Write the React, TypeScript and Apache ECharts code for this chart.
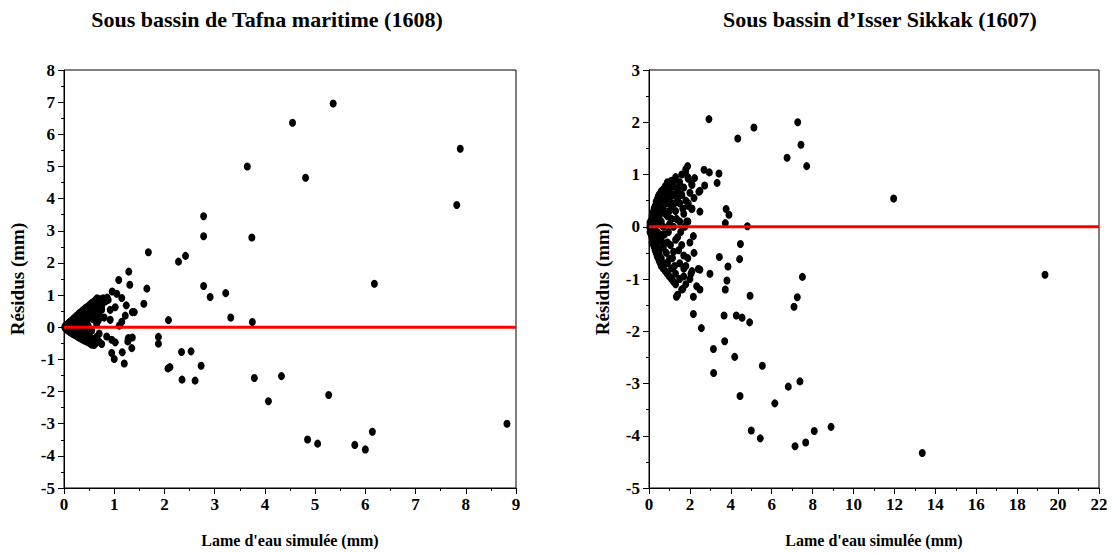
import React, { useEffect, useRef } from "react";
import * as echarts from "echarts";

const titleLeft = "Sous bassin de Tafna maritime (1608)";
const titleRight = "Sous bassin d\u2019Isser Sikkak (1607)";
const xName = "Lame d'eau simulée (mm)";
const yName = "Résidus (mm)";

// Tafna maritime: [simulated depth (mm), residual (mm)]
const tafnaSparse: number[][] = [
  [4.55, 6.36], [5.36, 6.96], [4.81, 4.65], [3.65, 5.0], [7.89, 5.55], [7.82, 3.8], [6.18, 1.35],
  [3.74, 2.79], [3.75, 0.16], [2.78, 3.45], [2.78, 2.83], [2.42, 2.22], [2.28, 2.04], [1.68, 2.33],
  [2.78, 1.28], [2.91, 0.94], [3.22, 1.06], [3.32, 0.3], [2.08, 0.22], [1.88, -0.3], [1.88, -0.51],
  [2.07, -1.28], [2.11, -1.24], [2.34, -0.77], [2.53, -0.75], [2.73, -1.2], [2.35, -1.63], [2.61, -1.66],
  [3.79, -1.58], [4.33, -1.52], [4.07, -2.3], [5.27, -2.11], [4.85, -3.49], [5.05, -3.62], [5.79, -3.66],
  [6.0, -3.8], [6.14, -3.25], [8.82, -3.0],
];
const tafnaMid: number[][] = [
  [1.29, 1.73], [1.09, 1.47], [1.31, 1.32], [1.65, 1.2], [0.96, 1.11], [1.05, 1.04], [1.15, 0.91],
  [1.24, 0.68], [1.59, 0.73], [1.36, 0.47], [1.4, 0.47], [1.22, 0.36], [1.15, 0.17], [0.92, 0.54],
  [0.86, 0.92], [0.82, 0.8], [0.88, 0.85], [0.72, 0.65], [0.75, 0.54], [0.92, 0.23], [0.85, -0.29],
  [0.95, -0.39], [1.02, -0.47], [0.75, -0.52], [1.28, -0.34], [1.36, -0.32], [1.27, -0.44], [1.35, -0.65],
  [0.95, -0.8], [1.0, -0.99], [1.16, -0.78], [1.2, -1.13], [0.55, -0.54], [1.02, 0.62], [0.8, 0.3],
  [1.1, 0.05], [0.68, 0.2],
];
const tafnaCluster: number[][] = [
  [0.02, 0.01], [0.02, -0.02], [0.02, 0.03], [0.04, 0.05], [0.04, -0.04], [0.04, 0.0],
  [0.06, 0.08], [0.06, -0.07], [0.06, 0.02], [0.08, 0.1], [0.08, -0.1], [0.08, 0.04], [0.08, -0.03],
  [0.1, 0.14], [0.1, -0.12], [0.1, 0.06], [0.12, 0.17], [0.12, 0.08], [0.12, -0.15], [0.12, -0.05],
  [0.15, 0.21], [0.15, 0.1], [0.15, -0.18], [0.15, -0.08], [0.18, 0.25], [0.18, 0.14], [0.18, -0.2], [0.18, 0.03],
  [0.2, 0.28], [0.2, 0.18], [0.2, -0.23], [0.2, -0.12], [0.23, 0.33], [0.23, 0.2], [0.23, -0.25], [0.23, -0.1],
  [0.26, 0.36], [0.26, 0.24], [0.26, -0.28], [0.26, 0.1], [0.28, 0.4], [0.28, 0.3], [0.28, -0.3], [0.28, -0.15],
  [0.31, 0.44], [0.31, 0.33], [0.31, -0.33], [0.31, 0.18], [0.34, 0.47], [0.34, 0.38], [0.34, -0.35], [0.34, -0.2],
  [0.37, 0.52], [0.37, 0.42], [0.37, -0.38], [0.37, 0.26], [0.4, 0.55], [0.4, 0.46], [0.4, -0.4], [0.4, 0.3], [0.4, -0.25],
  [0.43, 0.6], [0.43, 0.5], [0.43, -0.43], [0.43, 0.35], [0.46, 0.63], [0.46, 0.55], [0.46, -0.45], [0.46, -0.3],
  [0.5, 0.68], [0.5, 0.58], [0.5, -0.48], [0.5, 0.4], [0.53, 0.72], [0.53, 0.62], [0.53, -0.5], [0.53, 0.45],
  [0.56, 0.76], [0.56, 0.65], [0.56, -0.52], [0.56, -0.35], [0.6, 0.8], [0.6, 0.7], [0.6, -0.55], [0.6, 0.5],
  [0.63, 0.85], [0.63, 0.74], [0.63, -0.5], [0.63, 0.55], [0.66, 0.9], [0.66, 0.78], [0.66, 0.6],
  [0.7, 0.88], [0.7, 0.68], [0.7, -0.45], [0.75, 0.65], [0.72, 0.3], [0.45, 0.15], [0.35, 0.08], [0.5, -0.2],
  [0.3, 0.1], [0.38, -0.1], [0.42, 0.2], [0.48, 0.05], [0.52, 0.3], [0.55, -0.1], [0.58, 0.25], [0.62, 0.38],
  [0.65, -0.3], [0.68, 0.45], [0.45, -0.15], [0.6, -0.4], [0.7, -0.2], [0.25, -0.05], [0.33, -0.27],
  [0.65, 0.1], [0.7, 0.8], [0.75, 0.75], [0.78, 0.9],
];

// Isser Sikkak
const isserSparse: number[][] = [
  [2.93, 2.06], [5.13, 1.9], [7.27, 2.0], [4.34, 1.69], [7.43, 1.57], [6.75, 1.32], [7.71, 1.16],
  [2.69, 1.09], [2.95, 1.04], [3.42, 1.02], [2.72, 0.79], [3.33, 0.84], [2.49, 0.69], [11.96, 0.54],
  [2.49, 0.29], [3.77, 0.34], [3.91, 0.23], [3.73, 0.07], [4.81, 0.01], [4.47, -0.33], [3.44, -0.58],
  [4.43, -0.62], [3.86, -0.76], [2.49, -0.82], [2.98, -0.9], [3.81, -1.03], [3.73, -1.2], [19.36, -0.92],
  [7.5, -0.96], [7.25, -1.35], [7.09, -1.53], [4.94, -1.32], [2.49, -1.2], [3.67, -1.7], [4.27, -1.7],
  [4.55, -1.74], [4.92, -1.83], [2.56, -1.94], [3.7, -2.19], [3.15, -2.34], [4.19, -2.49], [5.54, -2.66],
  [3.16, -2.8], [7.38, -2.96], [6.81, -3.06], [4.45, -3.24], [6.15, -3.38], [5.0, -3.9], [5.44, -4.05],
  [8.08, -3.91], [8.9, -3.83], [7.14, -4.2], [7.66, -4.13], [13.36, -4.33],
];
const isserMid: number[][] = [
  [1.89, 1.16], [1.79, 1.06], [1.22, 0.88], [2.23, 0.93], [2.09, 0.82], [1.92, 0.92], [2.44, 0.67],
  [1.11, 0.77], [1.03, 0.64], [1.43, 0.74], [1.6, 0.61], [1.92, 0.45], [2.09, 0.34], [1.84, 0.1],
  [2.17, -0.18], [2.41, -0.81], [2.05, -0.9], [2.33, -1.14], [2.17, -1.34], [1.34, -1.34], [1.65, -1.19],
  [2.17, -1.67],
];
const isserCluster: number[][] = [
  [0.05, 0.02], [0.05, -0.03], [0.05, 0.08], [0.05, -0.1], [0.1, 0.12], [0.1, -0.15], [0.1, 0.0], [0.1, -0.05],
  [0.15, 0.2], [0.15, -0.22], [0.15, 0.06], [0.15, -0.3], [0.2, 0.28], [0.2, -0.32], [0.2, 0.1], [0.2, -0.12],
  [0.25, 0.35], [0.25, -0.38], [0.25, 0.18], [0.25, -0.2], [0.3, 0.4], [0.3, -0.45], [0.3, 0.25], [0.3, -0.08],
  [0.35, 0.48], [0.35, -0.5], [0.35, 0.3], [0.35, -0.35], [0.4, 0.52], [0.4, -0.56], [0.4, 0.15], [0.4, -0.25],
  [0.45, 0.58], [0.45, -0.6], [0.45, 0.4], [0.45, -0.42], [0.5, 0.62], [0.5, -0.65], [0.5, 0.05], [0.5, -0.5],
  [0.55, 0.45], [0.55, -0.7], [0.55, 0.28], [0.55, -0.15], [0.6, 0.68], [0.6, -0.75], [0.6, 0.55], [0.6, -0.6],
  [0.7, 0.72], [0.7, -0.8], [0.7, 0.35], [0.7, -0.4], [0.8, 0.78], [0.8, -0.85], [0.8, 0.6], [0.8, -0.7],
  [0.9, 0.85], [0.9, -0.9], [0.9, 0.2], [0.9, -0.3], [1.0, 0.7], [1.0, -0.95], [1.0, 0.5], [1.0, -0.62], [1.0, 0.05],
  [1.1, 0.88], [1.1, -1.0], [1.1, 0.4], [1.1, -0.8], [1.2, 0.78], [1.2, -1.05], [1.2, 0.62], [1.2, -0.48],
  [1.3, 0.95], [1.3, -1.1], [1.3, 0.3], [1.3, -0.9], [1.4, 0.7], [1.4, -1.3], [1.4, 0.55], [1.4, -0.2],
  [1.5, 0.85], [1.5, -1.0], [1.5, 0.45], [1.5, -0.7], [1.6, 1.0], [1.6, -1.2], [1.6, 0.61], [1.6, -0.35],
  [1.7, 0.75], [1.7, -0.95], [1.7, 0.25], [1.7, -0.55], [1.8, 1.1], [1.8, -1.1], [1.8, 0.5], [1.8, -0.75],
  [1.9, 0.95], [1.9, -0.6], [1.9, 0.4], [1.9, 0.1], [2.0, 0.65], [2.0, -1.0], [2.0, -0.3],
  [2.1, 0.8], [2.1, -0.85], [2.1, 0.35], [2.2, 0.55], [2.2, -0.5],
  [0.3, 0.05], [0.4, -0.1], [0.5, 0.2], [0.6, -0.2], [0.6, 0.1], [0.7, 0.0], [0.7, 0.5], [0.75, -0.15],
  [0.8, 0.25], [0.85, -0.5], [0.9, 0.45], [0.95, -0.1], [1.0, 0.3], [1.05, -0.35], [1.1, 0.15], [1.15, -0.6],
  [1.2, 0.0], [1.25, 0.45], [1.3, -0.25], [1.35, 0.15], [1.45, -0.45], [1.5, 0.1], [1.55, -0.1], [1.65, 0.35],
  [1.7, -0.8], [1.75, 0.0], [0.65, 0.3], [0.65, -0.3], [0.85, 0.65], [0.9, -0.7], [1.15, 0.6], [1.25, -0.75],
];

const tafnaPoints = [...tafnaCluster, ...tafnaMid, ...tafnaSparse];
const isserPoints = [...isserCluster, ...isserMid, ...isserSparse];
const tafnaZeroLine = [[0, 0], [9, 0]];
const isserZeroLine = [[0, 0], [22, 0]];

const FONT = "'Liberation Serif', 'Times New Roman', serif";

function xAxisCfg(gridIndex: number, max: number, interval: number) {
  return {
    gridIndex,
    type: "value",
    min: 0,
    max,
    interval,
    name: xName,
    nameLocation: "middle",
    nameGap: 44,
    nameTextStyle: { fontFamily: FONT, fontWeight: "bold", fontSize: 16, color: "#000" },
    axisLine: { onZero: false, lineStyle: { color: "#000", width: 1 } },
    axisTick: { show: true, length: 6, lineStyle: { color: "#000" } },
    minorTick: { show: true, splitNumber: 2, length: 3, lineStyle: { color: "#000" } },
    axisLabel: { fontFamily: FONT, fontWeight: "bold", fontSize: 17, color: "#000", margin: 8 },
    splitLine: { show: false },
  };
}

function yAxisCfg(gridIndex: number, min: number, max: number) {
  return {
    gridIndex,
    type: "value",
    min,
    max,
    interval: 1,
    name: yName,
    nameLocation: "middle",
    nameRotate: 90,
    nameGap: 37,
    nameTextStyle: { fontFamily: FONT, fontWeight: "bold", fontSize: 19, color: "#000" },
    axisLine: { onZero: false, lineStyle: { color: "#000", width: 1 } },
    axisTick: { show: true, length: 6, lineStyle: { color: "#000" } },
    minorTick: { show: true, splitNumber: 2, length: 3, lineStyle: { color: "#000" } },
    axisLabel: { fontFamily: FONT, fontWeight: "bold", fontSize: 17, color: "#000", margin: 9 },
    splitLine: { show: false },
  };
}

export default function App() {
  const ref = useRef<HTMLDivElement>(null);
  useEffect(() => {
    if (!ref.current) return;
    const chart = echarts.init(ref.current, undefined, { renderer: "svg" });
    const scatterStyle = { color: "#000", opacity: 1 };
    chart.setOption({
      animation: false,
      backgroundColor: "#fff",
      title: [
        {
          text: titleLeft,
          left: 262,
          top: 3,
          textAlign: "center",
          textStyle: { fontFamily: FONT, fontWeight: "bold", fontSize: 22, color: "#000" },
        },
        {
          text: titleRight,
          left: 875,
          top: 3,
          textAlign: "center",
          textStyle: { fontFamily: FONT, fontWeight: "bold", fontSize: 22, color: "#000" },
        },
      ],
      grid: [
        { left: 64, top: 70, width: 452, height: 419, show: true, borderColor: "#000", borderWidth: 1, backgroundColor: "transparent" },
        { left: 649, top: 70, width: 450, height: 419, show: true, borderColor: "#000", borderWidth: 1, backgroundColor: "transparent" },
      ],
      xAxis: [xAxisCfg(0, 9, 1), xAxisCfg(1, 22, 2)],
      yAxis: [yAxisCfg(0, -5, 8), yAxisCfg(1, -5, 3)],
      series: [
        {
          type: "scatter",
          xAxisIndex: 0,
          yAxisIndex: 0,
          data: tafnaPoints,
          symbol: "circle",
          symbolSize: [7, 8],
          itemStyle: scatterStyle,
          z: 2,
        },
        {
          type: "line",
          xAxisIndex: 0,
          yAxisIndex: 0,
          data: tafnaZeroLine,
          symbol: "none",
          lineStyle: { color: "#ff0000", width: 3 },
          z: 3,
        },
        {
          type: "scatter",
          xAxisIndex: 1,
          yAxisIndex: 1,
          data: isserPoints,
          symbol: "circle",
          symbolSize: [7, 8],
          itemStyle: scatterStyle,
          z: 2,
        },
        {
          type: "line",
          xAxisIndex: 1,
          yAxisIndex: 1,
          data: isserZeroLine,
          symbol: "none",
          lineStyle: { color: "#ff0000", width: 3 },
          z: 3,
        },
      ],
    });
    return () => chart.dispose();
  }, []);
  return (
    <div
      ref={ref}
      style={{ position: "absolute", left: 0, top: 0, width: 1113, height: 553 }}
    />
  );
}
